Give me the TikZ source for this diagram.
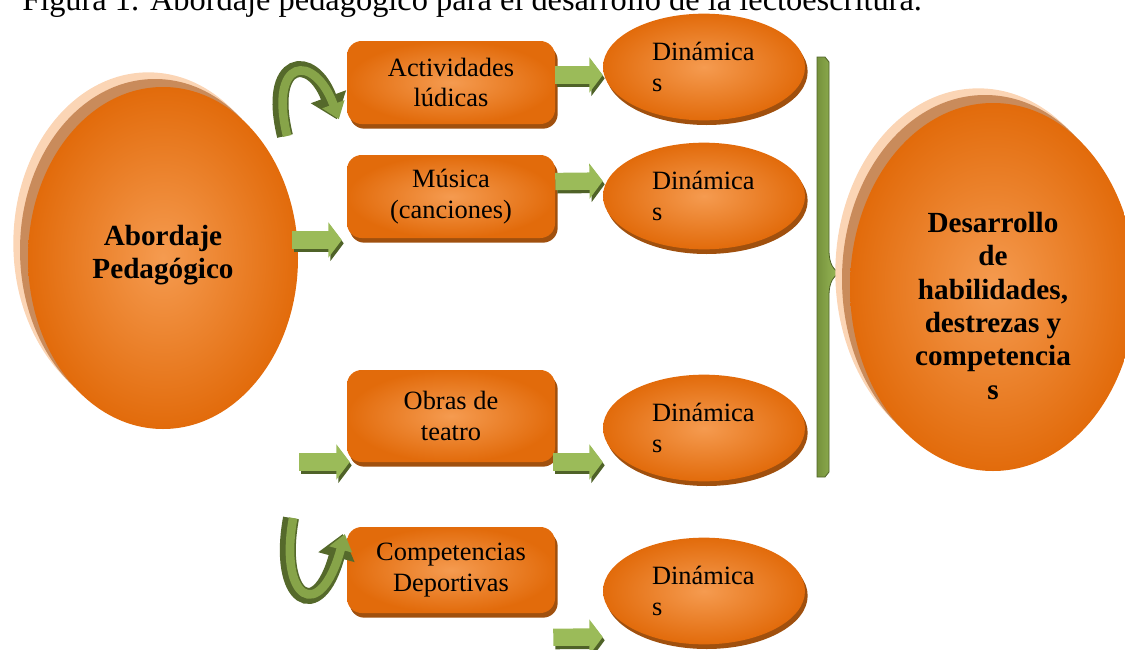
\documentclass[tikz,border=0pt]{standalone}
\usepackage{fontspec}
\setmainfont{Liberation Serif}
\usetikzlibrary{shapes.geometric,arrows.meta,shadows,calc}
\definecolor{orL}{HTML}{F59B50}
\definecolor{orD}{HTML}{E26B0B}
\definecolor{orS}{HTML}{A0500E}
\definecolor{peach}{HTML}{FBD5B5}
\definecolor{tanc}{HTML}{C98B5B}
\definecolor{grL}{HTML}{9BBB59}
\definecolor{grD}{HTML}{4F6228}
\definecolor{grM}{HTML}{76923C}
\begin{document}
\begin{tikzpicture}[x=0.75pt,y=-0.75pt,
  bigell/.style={ellipse, inner sep=0pt, shade, inner color=orL, outer color=orD,
    general shadow={shadow xshift=-11pt, shadow yshift=11pt, fill=peach},
    general shadow={shadow xshift=-6pt, shadow yshift=6pt, fill=tanc}},
  bigtext/.style={align=center, inner sep=0pt, font=\bfseries\fontsize{21.9}{25}\selectfont},
  boxnode/.style={rectangle, rounded corners=11pt, minimum width=156pt, inner sep=0pt,
    align=center, font=\fontsize{19.8}{22.8}\selectfont,
    shade, inner color=orL, outer color=orD,
    general shadow={shadow xshift=2pt, shadow yshift=-3.5pt, fill=orS}},
  dinnode/.style={ellipse, minimum width=151.5pt, minimum height=80pt, inner sep=0pt,
    text width=78pt, align=left, font=\fontsize{19.8}{22.8}\selectfont,
    shade, inner color=orL, outer color=orD,
    general shadow={shadow xshift=2pt, shadow yshift=-3.5pt, fill=orS}},
  garrowsh/.style={line width=13pt, grD, -{Triangle[length=10pt,width=26pt]},
    transform canvas={shift={(1.5pt,-2.5pt)}}},
  garrow/.style={line width=13pt, grL, -{Triangle[length=10pt,width=26pt]}},
  carrowsh/.style={line width=12pt, grD!85!grM, -{Triangle[length=18pt,width=27pt]}},
  carrow/.style={line width=6.5pt, grM!55!grL, -{Triangle[length=12pt,width=17pt]},
    transform canvas={shift={(1.6pt,0pt)}}}
]
\useasboundingbox (0,0) rectangle (1125,650);

% title (partly cut at the top)
\node[anchor=base west, inner sep=0pt, font=\fontsize{24.3}{28}\selectfont] (title) at (22,10)
  {Figura 1. Abordaje pedagógico para el desarrollo de la lectoescritura.};

% bracket
\shade[left color=grM, right color=grL, draw=grD, line width=0.6pt]
  (817,57) -- (825,57) -- (829,62) -- (829,250)
  .. controls (829,265) and (834,270) .. (840,273)
  .. controls (834,276) and (829,281) .. (829,296)
  -- (829,472) -- (825,477) -- (817,477) -- cycle;

% main nodes
\node[bigell, minimum width=202.5pt, minimum height=256.5pt] (abord) at (163,258) {};
\node[bigtext] (abordtxt) at (163,255) {Abordaje\\Pedagógico};

\node[bigell, minimum width=214.5pt, minimum height=276pt] (desar) at (993,287) {};
\node[bigtext] (desartxt) at (993,306) {Desarrollo\\de\\habilidades,\\destrezas y\\competencia\\s};

\node[boxnode, minimum height=62.25pt] (act) at (451,82.5) {Actividades\\lúdicas};
\node[boxnode, minimum height=62.25pt] (mus) at (451,196.5) {Música\\(canciones)};
\node[boxnode, minimum height=69pt] (obras) at (451,416) {Obras de\\teatro};
\node[boxnode, minimum height=64.5pt] (comp) at (451,570) {Competencias\\Deportivas};

\node[dinnode] (din1) at (704,67) {Dinámica\\s};
\node[dinnode] (din2) at (704,196) {Dinámica\\s};
\node[dinnode] (din3) at (704,428) {Dinámica\\s};
\node[dinnode] (din4) at (704,591) {Dinámica\\s};

% connector end points
\coordinate (s1) at ($(act.east)+(0,-7.5)$);
\coordinate (e1) at ($(din1.west)+(0,8)$);
\coordinate (s2) at ($(mus.east)+(0,-15)$);
\coordinate (e2) at ($(din2.west)+(0,-15)$);
\coordinate (s3) at ($(abord.east)+(-6,-18)$);
\coordinate (e3) at ($(mus.west)+(-5,43.5)$);
\coordinate (s4) at (299,462);
\coordinate (e4) at ($(obras.west)+(3,46)$);
\coordinate (s5) at ($(obras.east)+(-2,46)$);
\coordinate (e5) at ($(din3.west)+(0,34)$);
\coordinate (s6) at ($(comp.south east)+(-2,24)$);
\coordinate (e6) at ($(din4.west)+(0,46)$);

% straight green arrows
\foreach \i in {1,...,6}{
  \draw[garrowsh] (s\i) -- (e\i);
  \draw[garrow] (s\i) -- (e\i);
}

% curved green arrows
\coordinate (ca) at (285,136);
\coordinate (cae) at ($(act.south west)+(-10,-5)$);
\draw[carrowsh] (ca) .. controls (266,58) and (312,52) .. (cae);
\draw[carrow] (ca) .. controls (266,58) and (312,52) .. (cae);
\coordinate (cb) at (291,518);
\coordinate (cbe) at ($(comp.west)+(-4,-36)$);
\draw[carrowsh] (cb) .. controls (276,600) and (318,625) .. (cbe);
\draw[carrow] (cb) .. controls (276,600) and (318,625) .. (cbe);
\end{tikzpicture}
\end{document}
